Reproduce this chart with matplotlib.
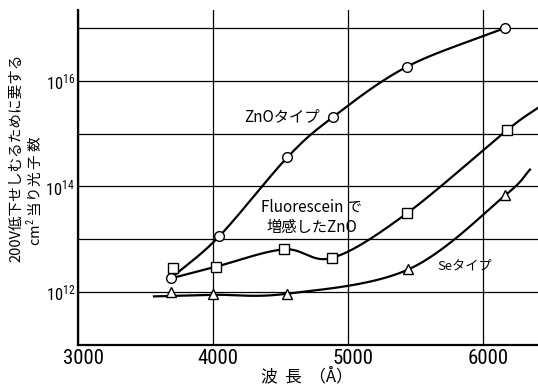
import numpy as np
import matplotlib
matplotlib.use("Agg")
import matplotlib.pyplot as plt
import matplotlib.transforms as mtransforms
from matplotlib.ticker import FixedLocator, FuncFormatter

plt.rcParams['font.family'] = ['Roboto Condensed', 'Noto Sans CJK JP', 'DejaVu Sans']
plt.rcParams['mathtext.fontset'] = 'custom'
plt.rcParams['mathtext.rm'] = 'Roboto Condensed'

# measured points (wavelength in Angstrom, log10 of photon count)
zno_x = [3687, 4047, 4550, 4887, 5439, 6163]
zno_y = [12.26, 13.06, 14.55, 15.31, 16.27, 17.00]

fluo_x = [3706, 4020, 4526, 4884, 5435, 6175]
fluo_y = [12.45, 12.48, 12.81, 12.65, 13.49, 15.06]
# drawn curve for fluorescein starts at the ZnO first point and runs off the right edge
fluo_curve_x = [3687, 4020, 4526, 4884, 5435, 6175, 6407]
fluo_curve_y = [12.26, 12.48, 12.81, 12.65, 13.49, 15.06, 15.49]

se_x = [3687, 4002, 4546, 5447, 6163]
se_y = [12.00, 11.96, 11.96, 12.43, 13.83]
se_curve_x = [3563, 4002, 4546, 5447, 6163, 6348]
se_curve_y = [11.92, 11.95, 11.97, 12.43, 13.83, 14.32]


def smooth(xs, ys, n=40):
    # Catmull-Rom through the knots, in (x, log y)
    p = np.column_stack([xs, ys]).astype(float)
    p = np.vstack([2 * p[0] - p[1], p, 2 * p[-1] - p[-2]])
    out = []
    for i in range(1, len(p) - 2):
        p0, p1, p2, p3 = p[i - 1], p[i], p[i + 1], p[i + 2]
        t = np.linspace(0, 1, n)[:, None]
        seg = 0.5 * ((2 * p1) + (-p0 + p2) * t + (2 * p0 - 5 * p1 + 4 * p2 - p3) * t ** 2
                     + (-p0 + 3 * p1 - 3 * p2 + p3) * t ** 3)
        out.append(seg)
    c = np.vstack(out)
    return c[:, 0], 10 ** c[:, 1]


def ylab(v, pos):
    k = int(round(np.log10(v)))
    if k % 2 == 0 and k < 17:
        return r'$\mathdefault{10^{%d}}$' % k
    return ''


fig = plt.figure(figsize=(5.38, 3.85), dpi=100)
ax = fig.add_axes([78 / 538, 40 / 385, 460 / 538, 335 / 385])
ax.set_yscale('log')
ax.set_xlim(3000, 6407)
ax.set_ylim(1e11, 10 ** 17.34)

for s in ['top', 'right']:
    ax.spines[s].set_visible(False)
for s in ['left', 'bottom']:
    ax.spines[s].set_linewidth(1.6)

ax.xaxis.set_major_locator(FixedLocator([3000, 4000, 5000, 6000]))
ax.yaxis.set_major_locator(FixedLocator([10.0 ** k for k in range(12, 18)]))
ax.yaxis.set_minor_locator(FixedLocator([]))
ax.yaxis.set_major_formatter(FuncFormatter(ylab))
ax.tick_params(length=0)
ax.tick_params(axis='x', labelsize=15, pad=3)
ax.tick_params(axis='y', labelsize=12, pad=2)
ax.grid(True, which='major', color='black', linewidth=0.9)

# the printed x labels sit a little right of their gridlines
shift = mtransforms.ScaledTranslation(5 / 100, 0, fig.dpi_scale_trans)
for lab in ax.get_xticklabels():
    lab.set_transform(lab.get_transform() + shift)

lw = 1.6
cx, cy = smooth(zno_x, zno_y)
ax.plot(cx, cy, color='black', lw=lw, zorder=3)
ax.plot(zno_x, 10 ** np.array(zno_y), 'o', ms=7, mfc='white', mec='black', mew=1.0, zorder=4)

cx, cy = smooth(fluo_curve_x, fluo_curve_y)
ax.plot(cx, cy, color='black', lw=lw, zorder=3)
ax.plot(fluo_x, 10 ** np.array(fluo_y), 's', ms=6.5, mfc='white', mec='black', mew=1.0, zorder=4)

cx, cy = smooth(se_curve_x, se_curve_y)
ax.plot(cx, cy, color='black', lw=lw, zorder=3)
ax.plot(se_x, 10 ** np.array(se_y), '^', ms=7, mfc='white', mec='black', mew=1.0, zorder=4)

jp = ['Noto Sans CJK JP']
ax.text(4235, 10 ** 15.33, 'ZnOタイプ', fontsize=11, family=jp, va='center')
ax.text(4730, 10 ** 13.6, 'Fluorescein で', fontsize=11, family=jp, ha='center', va='center')
ax.text(4730, 10 ** 13.22, '増感したZnO', fontsize=11, family=jp, ha='center', va='center')
ax.text(5660, 10 ** 12.5, 'Seタイプ', fontsize=9.5, family=jp, va='center')

fig.text(16 / 538, 1 - 158 / 385, '200V低下せしむるために要する', rotation=90, fontsize=10.5,
         family=jp, ha='center', va='center')
fig.text(34 / 538, 1 - 191 / 385, 'cm$^2$ 当り光 子 数', rotation=90, fontsize=10.5,
         family=jp, ha='center', va='center')
fig.text(307 / 538, 1 - 376 / 385, '波  長  （Å）', fontsize=12,
         family=jp, ha='center', va='center')

fig.savefig('out.png', dpi=100)
